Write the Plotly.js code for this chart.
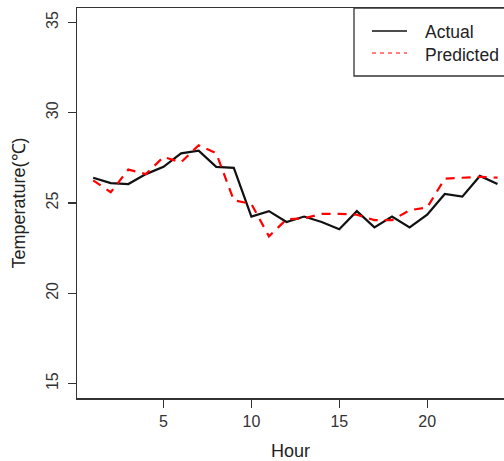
<!DOCTYPE html>
<html>
<head>
<meta charset="utf-8">
<script src="https://cdn.plot.ly/plotly-3.0.1.min.js"></script>
<style>html,body{margin:0;padding:0;background:#fff;}#chart{width:504px;height:461px;}</style>
</head>
<body>
<div id="chart"></div>
<script>
const hours = [1,2,3,4,5,6,7,8,9,10,11,12,13,14,15,16,17,18,19,20,21,22,23,24];
const actual = [26.4,26.1,26.05,26.6,27.0,27.75,27.9,27.0,26.95,24.25,24.55,23.95,24.25,23.95,23.55,24.55,23.65,24.25,23.65,24.35,25.5,25.35,26.5,26.05];
const predicted = [26.25,25.6,26.85,26.6,27.55,27.25,28.2,27.75,25.15,24.95,23.15,24.1,24.15,24.4,24.4,24.35,24.05,24.05,24.6,24.75,26.35,26.4,26.45,26.4];
const seriesNames = ["Actual","Predicted"];
const xTicks = [5,10,15,20];
const yTicks = [15,20,25,30,35];

const fam = "Liberation Sans, Arial, sans-serif";
const tickFont = {family:fam, size:16, color:"#333"};
const titleFont = {family:fam, size:18, color:"#222"};
const legFont = {family:fam, size:17.5, color:"#222"};
const traces = [
  {x:hours, y:actual, type:"scatter", mode:"lines", name:seriesNames[0], line:{color:"#111", width:2.2}, showlegend:false},
  {x:hours, y:predicted, type:"scatter", mode:"lines", name:seriesNames[1], line:{color:"#ff0000", width:2.2, dash:"9px,7px"}, showlegend:false}
];
const lx0 = (354-77)/427;
const layout = {
  width:504, height:461,
  margin:{l:77, r:0, t:8, b:63},
  paper_bgcolor:"#fff", plot_bgcolor:"#fff",
  font:tickFont,
  showlegend:false,
  xaxis:{range:[0.08,24.37], tickvals:xTicks, ticktext:xTicks.map(String), ticks:"outside", ticklen:8, tickwidth:1.3, tickcolor:"#333",
    tickfont:tickFont, showline:true, linecolor:"#333", linewidth:1.5, mirror:true, showgrid:false, zeroline:false,
    title:{text:"Hour", font:titleFont, standoff:15}},
  yaxis:{range:[14.2,35.8], tickvals:yTicks, ticktext:yTicks.map(String), ticks:"outside", ticklen:8, tickwidth:1.3, tickcolor:"#333",
    tickfont:tickFont, ticklabelstandoff:3,
    tickangle:-90, showline:true, linecolor:"#333", linewidth:1.5, showgrid:false, zeroline:false,
    title:{text:"Temperature(℃)", font:titleFont, standoff:14}},
  shapes:[
    {type:"rect", xref:"paper", yref:"paper", x0:lx0, x1:1.2, y0:(398-76)/390, y1:1, line:{color:"#333", width:1.3}, fillcolor:"#fff"},
    {type:"line", xref:"paper", yref:"paper", x0:(372-77)/427, x1:(407-77)/427, y0:(398-31)/390, y1:(398-31)/390, line:{color:"#111", width:1.3}},
    {type:"line", xref:"paper", yref:"paper", x0:(372-77)/427, x1:(407-77)/427, y0:(398-53)/390, y1:(398-53)/390, line:{color:"#ff0000", width:1.2, dash:"4px,4px"}}
  ],
  annotations:[
    {xref:"paper", yref:"paper", x:(423-77)/427, y:(398-32)/390, xanchor:"left", yanchor:"middle", text:seriesNames[0], showarrow:false, font:legFont},
    {xref:"paper", yref:"paper", x:(423-77)/427, y:(398-55)/390, xanchor:"left", yanchor:"middle", text:seriesNames[1], showarrow:false, font:legFont}
  ]
};
Plotly.newPlot("chart", traces, layout, {staticPlot:true, displayModeBar:false});
</script>
</body>
</html>
